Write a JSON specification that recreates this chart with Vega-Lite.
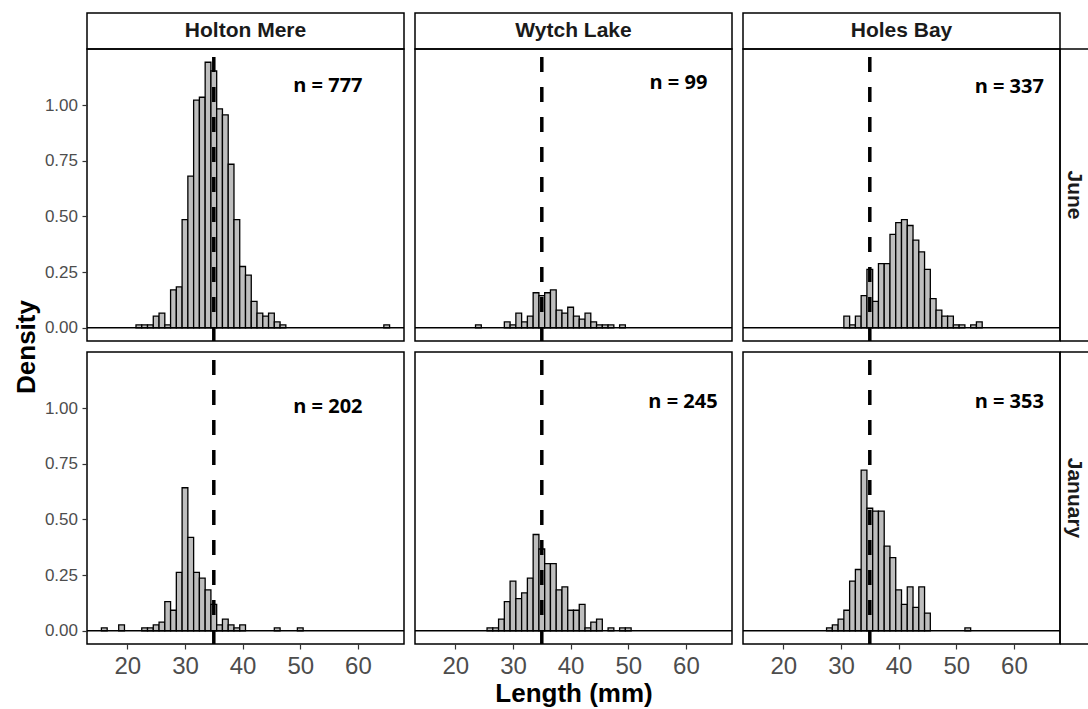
{
"$schema": "https://vega.github.io/schema/vega-lite/v6.json",
"background": "white",
"padding": {"left": 13, "top": 12, "right": 0, "bottom": 0},
"datasets": {
"bars": [
{"site":"Holton Mere","month":"June","lo":21.5,"hi":22.5,"density":0.013},
{"site":"Holton Mere","month":"June","lo":22.5,"hi":23.5,"density":0.013},
{"site":"Holton Mere","month":"June","lo":23.5,"hi":24.5,"density":0.013},
{"site":"Holton Mere","month":"June","lo":24.5,"hi":25.5,"density":0.052},
{"site":"Holton Mere","month":"June","lo":25.5,"hi":26.5,"density":0.066},
{"site":"Holton Mere","month":"June","lo":26.5,"hi":27.5,"density":0.013},
{"site":"Holton Mere","month":"June","lo":27.5,"hi":28.5,"density":0.170},
{"site":"Holton Mere","month":"June","lo":28.5,"hi":29.5,"density":0.183},
{"site":"Holton Mere","month":"June","lo":29.5,"hi":30.5,"density":0.485},
{"site":"Holton Mere","month":"June","lo":30.5,"hi":31.5,"density":0.681},
{"site":"Holton Mere","month":"June","lo":31.5,"hi":32.5,"density":1.022},
{"site":"Holton Mere","month":"June","lo":32.5,"hi":33.5,"density":1.035},
{"site":"Holton Mere","month":"June","lo":33.5,"hi":34.5,"density":1.192},
{"site":"Holton Mere","month":"June","lo":34.5,"hi":35.5,"density":1.153},
{"site":"Holton Mere","month":"June","lo":35.5,"hi":36.5,"density":0.983},
{"site":"Holton Mere","month":"June","lo":36.5,"hi":37.5,"density":0.956},
{"site":"Holton Mere","month":"June","lo":37.5,"hi":38.5,"density":0.734},
{"site":"Holton Mere","month":"June","lo":38.5,"hi":39.5,"density":0.485},
{"site":"Holton Mere","month":"June","lo":39.5,"hi":40.5,"density":0.275},
{"site":"Holton Mere","month":"June","lo":40.5,"hi":41.5,"density":0.236},
{"site":"Holton Mere","month":"June","lo":41.5,"hi":42.5,"density":0.118},
{"site":"Holton Mere","month":"June","lo":42.5,"hi":43.5,"density":0.066},
{"site":"Holton Mere","month":"June","lo":43.5,"hi":44.5,"density":0.052},
{"site":"Holton Mere","month":"June","lo":44.5,"hi":45.5,"density":0.066},
{"site":"Holton Mere","month":"June","lo":45.5,"hi":46.5,"density":0.026},
{"site":"Holton Mere","month":"June","lo":46.5,"hi":47.5,"density":0.013},
{"site":"Holton Mere","month":"June","lo":64.5,"hi":65.5,"density":0.013},
{"site":"Wytch Lake","month":"June","lo":23.5,"hi":24.5,"density":0.013},
{"site":"Wytch Lake","month":"June","lo":28.5,"hi":29.5,"density":0.026},
{"site":"Wytch Lake","month":"June","lo":29.5,"hi":30.5,"density":0.013},
{"site":"Wytch Lake","month":"June","lo":30.5,"hi":31.5,"density":0.066},
{"site":"Wytch Lake","month":"June","lo":31.5,"hi":32.5,"density":0.026},
{"site":"Wytch Lake","month":"June","lo":32.5,"hi":33.5,"density":0.052},
{"site":"Wytch Lake","month":"June","lo":33.5,"hi":34.5,"density":0.157},
{"site":"Wytch Lake","month":"June","lo":34.5,"hi":35.5,"density":0.144},
{"site":"Wytch Lake","month":"June","lo":35.5,"hi":36.5,"density":0.157},
{"site":"Wytch Lake","month":"June","lo":36.5,"hi":37.5,"density":0.170},
{"site":"Wytch Lake","month":"June","lo":37.5,"hi":38.5,"density":0.079},
{"site":"Wytch Lake","month":"June","lo":38.5,"hi":39.5,"density":0.066},
{"site":"Wytch Lake","month":"June","lo":39.5,"hi":40.5,"density":0.092},
{"site":"Wytch Lake","month":"June","lo":40.5,"hi":41.5,"density":0.052},
{"site":"Wytch Lake","month":"June","lo":41.5,"hi":42.5,"density":0.039},
{"site":"Wytch Lake","month":"June","lo":42.5,"hi":43.5,"density":0.066},
{"site":"Wytch Lake","month":"June","lo":43.5,"hi":44.5,"density":0.026},
{"site":"Wytch Lake","month":"June","lo":44.5,"hi":45.5,"density":0.013},
{"site":"Wytch Lake","month":"June","lo":45.5,"hi":46.5,"density":0.013},
{"site":"Wytch Lake","month":"June","lo":46.5,"hi":47.5,"density":0.013},
{"site":"Wytch Lake","month":"June","lo":48.5,"hi":49.5,"density":0.013},
{"site":"Holes Bay","month":"June","lo":30.5,"hi":31.5,"density":0.052},
{"site":"Holes Bay","month":"June","lo":31.5,"hi":32.5,"density":0.013},
{"site":"Holes Bay","month":"June","lo":32.5,"hi":33.5,"density":0.052},
{"site":"Holes Bay","month":"June","lo":33.5,"hi":34.5,"density":0.144},
{"site":"Holes Bay","month":"June","lo":34.5,"hi":35.5,"density":0.262},
{"site":"Holes Bay","month":"June","lo":35.5,"hi":36.5,"density":0.118},
{"site":"Holes Bay","month":"June","lo":36.5,"hi":37.5,"density":0.288},
{"site":"Holes Bay","month":"June","lo":37.5,"hi":38.5,"density":0.288},
{"site":"Holes Bay","month":"June","lo":38.5,"hi":39.5,"density":0.419},
{"site":"Holes Bay","month":"June","lo":39.5,"hi":40.5,"density":0.472},
{"site":"Holes Bay","month":"June","lo":40.5,"hi":41.5,"density":0.485},
{"site":"Holes Bay","month":"June","lo":41.5,"hi":42.5,"density":0.459},
{"site":"Holes Bay","month":"June","lo":42.5,"hi":43.5,"density":0.393},
{"site":"Holes Bay","month":"June","lo":43.5,"hi":44.5,"density":0.341},
{"site":"Holes Bay","month":"June","lo":44.5,"hi":45.5,"density":0.262},
{"site":"Holes Bay","month":"June","lo":45.5,"hi":46.5,"density":0.131},
{"site":"Holes Bay","month":"June","lo":46.5,"hi":47.5,"density":0.079},
{"site":"Holes Bay","month":"June","lo":47.5,"hi":48.5,"density":0.052},
{"site":"Holes Bay","month":"June","lo":48.5,"hi":49.5,"density":0.052},
{"site":"Holes Bay","month":"June","lo":49.5,"hi":50.5,"density":0.013},
{"site":"Holes Bay","month":"June","lo":50.5,"hi":51.5,"density":0.013},
{"site":"Holes Bay","month":"June","lo":52.5,"hi":53.5,"density":0.013},
{"site":"Holes Bay","month":"June","lo":53.5,"hi":54.5,"density":0.026},
{"site":"Holton Mere","month":"January","lo":15.5,"hi":16.5,"density":0.013},
{"site":"Holton Mere","month":"January","lo":18.5,"hi":19.5,"density":0.026},
{"site":"Holton Mere","month":"January","lo":22.5,"hi":23.5,"density":0.013},
{"site":"Holton Mere","month":"January","lo":23.5,"hi":24.5,"density":0.013},
{"site":"Holton Mere","month":"January","lo":24.5,"hi":25.5,"density":0.026},
{"site":"Holton Mere","month":"January","lo":25.5,"hi":26.5,"density":0.039},
{"site":"Holton Mere","month":"January","lo":26.5,"hi":27.5,"density":0.131},
{"site":"Holton Mere","month":"January","lo":27.5,"hi":28.5,"density":0.092},
{"site":"Holton Mere","month":"January","lo":28.5,"hi":29.5,"density":0.262},
{"site":"Holton Mere","month":"January","lo":29.5,"hi":30.5,"density":0.642},
{"site":"Holton Mere","month":"January","lo":30.5,"hi":31.5,"density":0.419},
{"site":"Holton Mere","month":"January","lo":31.5,"hi":32.5,"density":0.262},
{"site":"Holton Mere","month":"January","lo":32.5,"hi":33.5,"density":0.236},
{"site":"Holton Mere","month":"January","lo":33.5,"hi":34.5,"density":0.183},
{"site":"Holton Mere","month":"January","lo":34.5,"hi":35.5,"density":0.118},
{"site":"Holton Mere","month":"January","lo":35.5,"hi":36.5,"density":0.026},
{"site":"Holton Mere","month":"January","lo":36.5,"hi":37.5,"density":0.052},
{"site":"Holton Mere","month":"January","lo":37.5,"hi":38.5,"density":0.026},
{"site":"Holton Mere","month":"January","lo":38.5,"hi":39.5,"density":0.013},
{"site":"Holton Mere","month":"January","lo":39.5,"hi":40.5,"density":0.026},
{"site":"Holton Mere","month":"January","lo":45.5,"hi":46.5,"density":0.013},
{"site":"Holton Mere","month":"January","lo":49.5,"hi":50.5,"density":0.013},
{"site":"Wytch Lake","month":"January","lo":25.5,"hi":26.5,"density":0.013},
{"site":"Wytch Lake","month":"January","lo":26.5,"hi":27.5,"density":0.013},
{"site":"Wytch Lake","month":"January","lo":27.5,"hi":28.5,"density":0.052},
{"site":"Wytch Lake","month":"January","lo":28.5,"hi":29.5,"density":0.131},
{"site":"Wytch Lake","month":"January","lo":29.5,"hi":30.5,"density":0.223},
{"site":"Wytch Lake","month":"January","lo":30.5,"hi":31.5,"density":0.144},
{"site":"Wytch Lake","month":"January","lo":31.5,"hi":32.5,"density":0.170},
{"site":"Wytch Lake","month":"January","lo":32.5,"hi":33.5,"density":0.236},
{"site":"Wytch Lake","month":"January","lo":33.5,"hi":34.5,"density":0.432},
{"site":"Wytch Lake","month":"January","lo":34.5,"hi":35.5,"density":0.367},
{"site":"Wytch Lake","month":"January","lo":35.5,"hi":36.5,"density":0.301},
{"site":"Wytch Lake","month":"January","lo":36.5,"hi":37.5,"density":0.301},
{"site":"Wytch Lake","month":"January","lo":37.5,"hi":38.5,"density":0.183},
{"site":"Wytch Lake","month":"January","lo":38.5,"hi":39.5,"density":0.197},
{"site":"Wytch Lake","month":"January","lo":39.5,"hi":40.5,"density":0.092},
{"site":"Wytch Lake","month":"January","lo":40.5,"hi":41.5,"density":0.092},
{"site":"Wytch Lake","month":"January","lo":41.5,"hi":42.5,"density":0.118},
{"site":"Wytch Lake","month":"January","lo":42.5,"hi":43.5,"density":0.013},
{"site":"Wytch Lake","month":"January","lo":43.5,"hi":44.5,"density":0.039},
{"site":"Wytch Lake","month":"January","lo":44.5,"hi":45.5,"density":0.052},
{"site":"Wytch Lake","month":"January","lo":46.5,"hi":47.5,"density":0.013},
{"site":"Wytch Lake","month":"January","lo":48.5,"hi":49.5,"density":0.013},
{"site":"Wytch Lake","month":"January","lo":49.5,"hi":50.5,"density":0.013},
{"site":"Holes Bay","month":"January","lo":27.5,"hi":28.5,"density":0.013},
{"site":"Holes Bay","month":"January","lo":28.5,"hi":29.5,"density":0.026},
{"site":"Holes Bay","month":"January","lo":29.5,"hi":30.5,"density":0.052},
{"site":"Holes Bay","month":"January","lo":30.5,"hi":31.5,"density":0.092},
{"site":"Holes Bay","month":"January","lo":31.5,"hi":32.5,"density":0.223},
{"site":"Holes Bay","month":"January","lo":32.5,"hi":33.5,"density":0.275},
{"site":"Holes Bay","month":"January","lo":33.5,"hi":34.5,"density":0.721},
{"site":"Holes Bay","month":"January","lo":34.5,"hi":35.5,"density":0.550},
{"site":"Holes Bay","month":"January","lo":35.5,"hi":36.5,"density":0.537},
{"site":"Holes Bay","month":"January","lo":36.5,"hi":37.5,"density":0.537},
{"site":"Holes Bay","month":"January","lo":37.5,"hi":38.5,"density":0.380},
{"site":"Holes Bay","month":"January","lo":38.5,"hi":39.5,"density":0.328},
{"site":"Holes Bay","month":"January","lo":39.5,"hi":40.5,"density":0.183},
{"site":"Holes Bay","month":"January","lo":40.5,"hi":41.5,"density":0.118},
{"site":"Holes Bay","month":"January","lo":41.5,"hi":42.5,"density":0.197},
{"site":"Holes Bay","month":"January","lo":42.5,"hi":43.5,"density":0.105},
{"site":"Holes Bay","month":"January","lo":43.5,"hi":44.5,"density":0.197},
{"site":"Holes Bay","month":"January","lo":44.5,"hi":45.5,"density":0.079},
{"site":"Holes Bay","month":"January","lo":51.5,"hi":52.5,"density":0.013}
],
"labels": [
{"site":"Holton Mere","month":"June","label":"n = 777","lx":54.8,"ly":1.085},
{"site":"Wytch Lake","month":"June","label":"n = 99","lx":58.7,"ly":1.099},
{"site":"Holes Bay","month":"June","label":"n = 337","lx":59.2,"ly":1.082},
{"site":"Holton Mere","month":"January","label":"n = 202","lx":54.8,"ly":1.006},
{"site":"Wytch Lake","month":"January","label":"n = 245","lx":59.5,"ly":1.025},
{"site":"Holes Bay","month":"January","label":"n = 353","lx":59.2,"ly":1.025}
]
},
"concat": [
{"width": 317, "height": 36, "view": {"stroke": "black", "strokeWidth": 1.5, "fill": "white"}, "data": {"values": [{"lab": "Holton Mere"}]}, "mark": {"type": "text", "font": "Liberation Sans", "fontWeight": "bold", "fontSize": 21, "color": "#1a1a1a"}, "encoding": {"text": {"field": "lab"}}},
{"width": 11, "height": 11, "data": {"values": []}, "mark": "point"},
{"width": 317, "height": 36, "view": {"stroke": "black", "strokeWidth": 1.5, "fill": "white"}, "data": {"values": [{"lab": "Wytch Lake"}]}, "mark": {"type": "text", "font": "Liberation Sans", "fontWeight": "bold", "fontSize": 21, "color": "#1a1a1a"}, "encoding": {"text": {"field": "lab"}}},
{"width": 11, "height": 11, "data": {"values": []}, "mark": "point"},
{"width": 317, "height": 36, "view": {"stroke": "black", "strokeWidth": 1.5, "fill": "white"}, "data": {"values": [{"lab": "Holes Bay"}]}, "mark": {"type": "text", "font": "Liberation Sans", "fontWeight": "bold", "fontSize": 21, "color": "#1a1a1a"}, "encoding": {"text": {"field": "lab"}}},
{"width": 11, "height": 11, "data": {"values": []}, "mark": "point"},

{"width": 317, "height": 292, "view": {"stroke": "black", "strokeWidth": 1.5},
 "layer": [
  {"data": {"name": "bars"}, "transform": [{"filter": "datum.site == 'Holton Mere' && datum.month == 'June'"}],
   "mark": {"type": "rect", "fill": "#bebebe", "stroke": "black", "strokeWidth": 1.3},
   "encoding": {
    "x": {"field": "lo", "type": "quantitative", "scale": {"domain": [13, 68], "nice": false, "zero": false}, "axis": null},
    "x2": {"field": "hi"},
    "y": {"field": "density", "type": "quantitative", "scale": {"domain": [-0.0596, 1.2516], "nice": false, "zero": false}, "axis": {"values": [0, 0.25, 0.5, 0.75, 1], "format": ".2f", "title": null}},
    "y2": {"datum": 0}}},
  {"data": {"values": [{}]}, "mark": {"type": "rule", "color": "black", "strokeWidth": 1.5},
   "encoding": {"y": {"datum": 0, "type": "quantitative"}}},
  {"data": {"values": [{}]}, "mark": {"type": "rule", "color": "black", "strokeWidth": 3.5, "strokeDash": [15, 15], "strokeDashOffset": 22},
   "encoding": {"x": {"datum": 35, "type": "quantitative"}}},
  {"data": {"name": "labels"}, "transform": [{"filter": "datum.site == 'Holton Mere' && datum.month == 'June'"}],
   "mark": {"type": "text", "font": "Open Sans", "fontWeight": "bold", "fontSize": 20, "color": "black"},
   "encoding": {"x": {"field": "lx", "type": "quantitative"}, "y": {"field": "ly", "type": "quantitative"}, "text": {"field": "label"}}}
 ]},
{"width": 11, "height": 11, "data": {"values": []}, "mark": "point"},
{"width": 317, "height": 292, "view": {"stroke": "black", "strokeWidth": 1.5},
 "layer": [
  {"data": {"name": "bars"}, "transform": [{"filter": "datum.site == 'Wytch Lake' && datum.month == 'June'"}],
   "mark": {"type": "rect", "fill": "#bebebe", "stroke": "black", "strokeWidth": 1.3},
   "encoding": {
    "x": {"field": "lo", "type": "quantitative", "scale": {"domain": [13, 68], "nice": false, "zero": false}, "axis": null},
    "x2": {"field": "hi"},
    "y": {"field": "density", "type": "quantitative", "scale": {"domain": [-0.0596, 1.2516], "nice": false, "zero": false}, "axis": null},
    "y2": {"datum": 0}}},
  {"data": {"values": [{}]}, "mark": {"type": "rule", "color": "black", "strokeWidth": 1.5},
   "encoding": {"y": {"datum": 0, "type": "quantitative"}}},
  {"data": {"values": [{}]}, "mark": {"type": "rule", "color": "black", "strokeWidth": 3.5, "strokeDash": [15, 15], "strokeDashOffset": 22},
   "encoding": {"x": {"datum": 35, "type": "quantitative"}}},
  {"data": {"name": "labels"}, "transform": [{"filter": "datum.site == 'Wytch Lake' && datum.month == 'June'"}],
   "mark": {"type": "text", "font": "Open Sans", "fontWeight": "bold", "fontSize": 20, "color": "black"},
   "encoding": {"x": {"field": "lx", "type": "quantitative"}, "y": {"field": "ly", "type": "quantitative"}, "text": {"field": "label"}}}
 ]},
{"width": 11, "height": 11, "data": {"values": []}, "mark": "point"},
{"width": 317, "height": 292, "view": {"stroke": "black", "strokeWidth": 1.5},
 "layer": [
  {"data": {"name": "bars"}, "transform": [{"filter": "datum.site == 'Holes Bay' && datum.month == 'June'"}],
   "mark": {"type": "rect", "fill": "#bebebe", "stroke": "black", "strokeWidth": 1.3},
   "encoding": {
    "x": {"field": "lo", "type": "quantitative", "scale": {"domain": [13, 68], "nice": false, "zero": false}, "axis": null},
    "x2": {"field": "hi"},
    "y": {"field": "density", "type": "quantitative", "scale": {"domain": [-0.0596, 1.2516], "nice": false, "zero": false}, "axis": null},
    "y2": {"datum": 0}}},
  {"data": {"values": [{}]}, "mark": {"type": "rule", "color": "black", "strokeWidth": 1.5},
   "encoding": {"y": {"datum": 0, "type": "quantitative"}}},
  {"data": {"values": [{}]}, "mark": {"type": "rule", "color": "black", "strokeWidth": 3.5, "strokeDash": [15, 15], "strokeDashOffset": 22},
   "encoding": {"x": {"datum": 35, "type": "quantitative"}}},
  {"data": {"name": "labels"}, "transform": [{"filter": "datum.site == 'Holes Bay' && datum.month == 'June'"}],
   "mark": {"type": "text", "font": "Open Sans", "fontWeight": "bold", "fontSize": 20, "color": "black"},
   "encoding": {"x": {"field": "lx", "type": "quantitative"}, "y": {"field": "ly", "type": "quantitative"}, "text": {"field": "label"}}}
 ]},
{"width": 28, "height": 292, "data": {"values": [{"lab": "June"}]},
 "layer": [
  {"mark": {"type": "rule", "color": "black", "strokeWidth": 1.5}, "encoding": {"y": {"datum": 0, "type": "quantitative", "scale": {"domain": [0, 1]}, "axis": null}}},
  {"mark": {"type": "rule", "color": "black", "strokeWidth": 1.5}, "encoding": {"y": {"datum": 1, "type": "quantitative", "scale": {"domain": [0, 1]}, "axis": null}}},
  {"mark": {"type": "rule", "color": "black", "strokeWidth": 1.5}, "encoding": {"x": {"datum": 0, "type": "quantitative", "scale": {"domain": [0, 1]}, "axis": null}}},
  {"mark": {"type": "text", "angle": 90, "font": "Liberation Sans", "fontWeight": "bold", "fontSize": 21, "color": "#1a1a1a"}, "encoding": {"text": {"field": "lab"}}}
 ]},

{"width": 11, "height": 11, "data": {"values": [{"a": 0}]}, "mark": {"type": "point", "opacity": 0},
 "encoding": {"y": {"field": "a", "type": "quantitative", "scale": {"domain": [0, 1]}, "axis": {"title": "Density", "labels": false, "ticks": false, "domain": false, "grid": false, "titleFont": "Liberation Sans", "titleFontSize": 26, "titleFontWeight": "bold", "titleColor": "black", "titlePadding": 48}}}},
{"width": 11, "height": 11, "data": {"values": []}, "mark": "point"},
{"width": 11, "height": 11, "data": {"values": []}, "mark": "point"},
{"width": 11, "height": 11, "data": {"values": []}, "mark": "point"},
{"width": 11, "height": 11, "data": {"values": []}, "mark": "point"},
{"width": 11, "height": 11, "data": {"values": []}, "mark": "point"},

{"width": 317, "height": 292, "view": {"stroke": "black", "strokeWidth": 1.5},
 "layer": [
  {"data": {"name": "bars"}, "transform": [{"filter": "datum.site == 'Holton Mere' && datum.month == 'January'"}],
   "mark": {"type": "rect", "fill": "#bebebe", "stroke": "black", "strokeWidth": 1.3},
   "encoding": {
    "x": {"field": "lo", "type": "quantitative", "scale": {"domain": [13, 68], "nice": false, "zero": false}, "axis": {"values": [20, 30, 40, 50, 60], "title": null}},
    "x2": {"field": "hi"},
    "y": {"field": "density", "type": "quantitative", "scale": {"domain": [-0.0596, 1.2516], "nice": false, "zero": false}, "axis": {"values": [0, 0.25, 0.5, 0.75, 1], "format": ".2f", "title": null}},
    "y2": {"datum": 0}}},
  {"data": {"values": [{}]}, "mark": {"type": "rule", "color": "black", "strokeWidth": 1.5},
   "encoding": {"y": {"datum": 0, "type": "quantitative"}}},
  {"data": {"values": [{}]}, "mark": {"type": "rule", "color": "black", "strokeWidth": 3.5, "strokeDash": [15, 15], "strokeDashOffset": 22},
   "encoding": {"x": {"datum": 35, "type": "quantitative"}}},
  {"data": {"name": "labels"}, "transform": [{"filter": "datum.site == 'Holton Mere' && datum.month == 'January'"}],
   "mark": {"type": "text", "font": "Open Sans", "fontWeight": "bold", "fontSize": 20, "color": "black"},
   "encoding": {"x": {"field": "lx", "type": "quantitative"}, "y": {"field": "ly", "type": "quantitative"}, "text": {"field": "label"}}}
 ]},
{"width": 11, "height": 11, "data": {"values": []}, "mark": "point"},
{"width": 317, "height": 292, "view": {"stroke": "black", "strokeWidth": 1.5},
 "layer": [
  {"data": {"name": "bars"}, "transform": [{"filter": "datum.site == 'Wytch Lake' && datum.month == 'January'"}],
   "mark": {"type": "rect", "fill": "#bebebe", "stroke": "black", "strokeWidth": 1.3},
   "encoding": {
    "x": {"field": "lo", "type": "quantitative", "scale": {"domain": [13, 68], "nice": false, "zero": false}, "axis": {"values": [20, 30, 40, 50, 60], "title": "Length (mm)", "titleFont": "Liberation Sans", "titleFontSize": 26, "titleFontWeight": "bold", "titleColor": "black", "titlePadding": 2}},
    "x2": {"field": "hi"},
    "y": {"field": "density", "type": "quantitative", "scale": {"domain": [-0.0596, 1.2516], "nice": false, "zero": false}, "axis": null},
    "y2": {"datum": 0}}},
  {"data": {"values": [{}]}, "mark": {"type": "rule", "color": "black", "strokeWidth": 1.5},
   "encoding": {"y": {"datum": 0, "type": "quantitative"}}},
  {"data": {"values": [{}]}, "mark": {"type": "rule", "color": "black", "strokeWidth": 3.5, "strokeDash": [15, 15], "strokeDashOffset": 22},
   "encoding": {"x": {"datum": 35, "type": "quantitative"}}},
  {"data": {"name": "labels"}, "transform": [{"filter": "datum.site == 'Wytch Lake' && datum.month == 'January'"}],
   "mark": {"type": "text", "font": "Open Sans", "fontWeight": "bold", "fontSize": 20, "color": "black"},
   "encoding": {"x": {"field": "lx", "type": "quantitative"}, "y": {"field": "ly", "type": "quantitative"}, "text": {"field": "label"}}}
 ]},
{"width": 11, "height": 11, "data": {"values": []}, "mark": "point"},
{"width": 317, "height": 292, "view": {"stroke": "black", "strokeWidth": 1.5},
 "layer": [
  {"data": {"name": "bars"}, "transform": [{"filter": "datum.site == 'Holes Bay' && datum.month == 'January'"}],
   "mark": {"type": "rect", "fill": "#bebebe", "stroke": "black", "strokeWidth": 1.3},
   "encoding": {
    "x": {"field": "lo", "type": "quantitative", "scale": {"domain": [13, 68], "nice": false, "zero": false}, "axis": {"values": [20, 30, 40, 50, 60], "title": null}},
    "x2": {"field": "hi"},
    "y": {"field": "density", "type": "quantitative", "scale": {"domain": [-0.0596, 1.2516], "nice": false, "zero": false}, "axis": null},
    "y2": {"datum": 0}}},
  {"data": {"values": [{}]}, "mark": {"type": "rule", "color": "black", "strokeWidth": 1.5},
   "encoding": {"y": {"datum": 0, "type": "quantitative"}}},
  {"data": {"values": [{}]}, "mark": {"type": "rule", "color": "black", "strokeWidth": 3.5, "strokeDash": [15, 15], "strokeDashOffset": 22},
   "encoding": {"x": {"datum": 35, "type": "quantitative"}}},
  {"data": {"name": "labels"}, "transform": [{"filter": "datum.site == 'Holes Bay' && datum.month == 'January'"}],
   "mark": {"type": "text", "font": "Open Sans", "fontWeight": "bold", "fontSize": 20, "color": "black"},
   "encoding": {"x": {"field": "lx", "type": "quantitative"}, "y": {"field": "ly", "type": "quantitative"}, "text": {"field": "label"}}}
 ]},
{"width": 28, "height": 292, "data": {"values": [{"lab": "January"}]},
 "layer": [
  {"mark": {"type": "rule", "color": "black", "strokeWidth": 1.5}, "encoding": {"y": {"datum": 0, "type": "quantitative", "scale": {"domain": [0, 1]}, "axis": null}}},
  {"mark": {"type": "rule", "color": "black", "strokeWidth": 1.5}, "encoding": {"y": {"datum": 1, "type": "quantitative", "scale": {"domain": [0, 1]}, "axis": null}}},
  {"mark": {"type": "rule", "color": "black", "strokeWidth": 1.5}, "encoding": {"x": {"datum": 0, "type": "quantitative", "scale": {"domain": [0, 1]}, "axis": null}}},
  {"mark": {"type": "text", "angle": 90, "font": "Liberation Sans", "fontWeight": "bold", "fontSize": 21, "color": "#1a1a1a"}, "encoding": {"text": {"field": "lab"}}}
 ]}
],
"columns": 6,
"spacing": 0,
"bounds": "flush",
"align": "each",
"config": {
 "view": {"stroke": null},
 "axis": {"domain": false, "grid": false, "labelFont": "Liberation Sans", "titleFont": "Liberation Sans", "tickColor": "#333333", "tickWidth": 1.2, "tickSize": 5, "labelColor": "#4d4d4d"},
 "axisX": {"labelFontSize": 24, "labelPadding": 5},
 "axisY": {"labelFontSize": 17, "labelPadding": 4.5}
}
}
